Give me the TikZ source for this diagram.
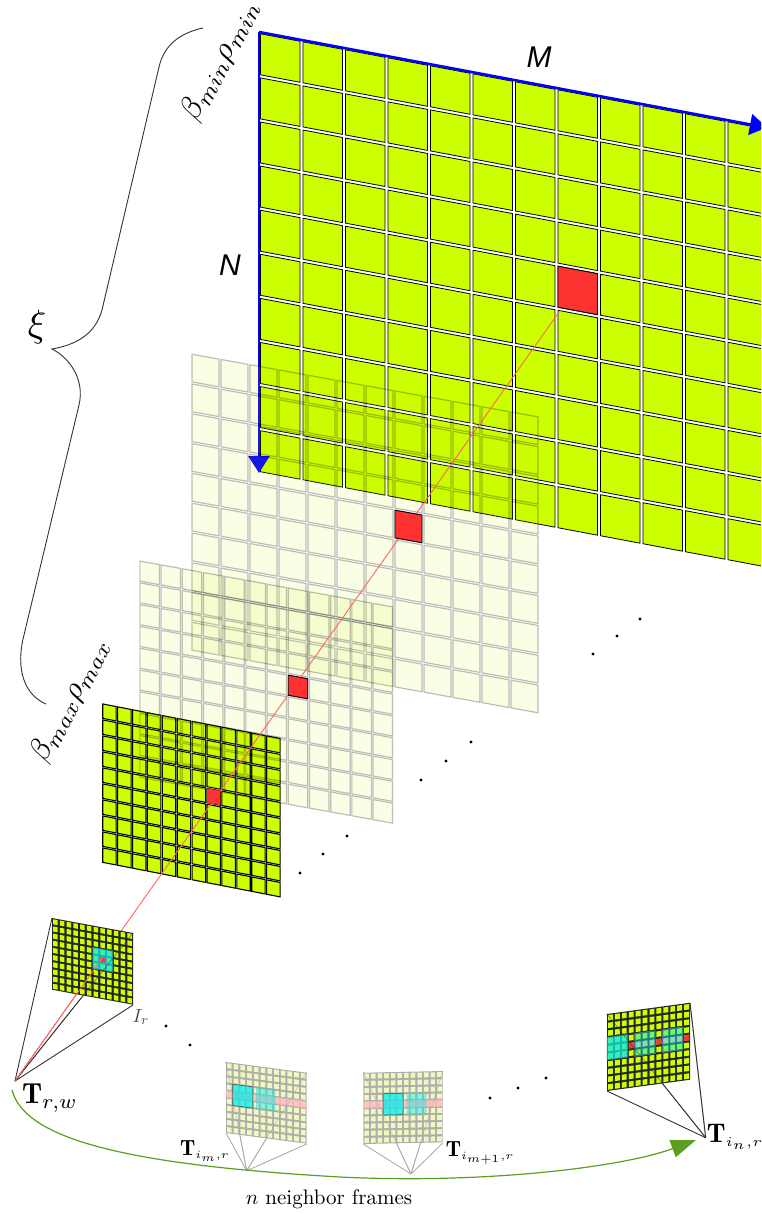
\documentclass[tikz,border=0pt]{standalone}
\usepackage{fontspec}
\setsansfont{Liberation Sans}
\usetikzlibrary{arrows.meta}
\definecolor{cellgreen}{RGB}{204,255,0}
\definecolor{palegreen}{RGB}{200,245,0}
\definecolor{cellred}{RGB}{255,50,50}
\definecolor{patchcyan}{RGB}{10,235,235}
\definecolor{bandpink}{RGB}{255,185,190}
\definecolor{arcgreen}{RGB}{90,160,30}
\definecolor{smallpale}{RGB}{240,248,190}
\newcommand{\gridcell}[3]{\path[#3] (#1+\gap,#2+\gap) -- (#1+1-\gap,#2+\gap) -- (#1+1-\gap,#2+1-\gap) -- (#1+\gap,#2+1-\gap) -- cycle;}
\newcommand{\gridpatch}[5]{\path[#5] (#1,#2) -- (#3,#2) -- (#3,#4) -- (#1,#4) -- cycle;}
\tikzset{
    bigcell/.style={fill=cellgreen, draw=black, line width=0.8pt},
    palecell/.style={fill=palegreen, fill opacity=0.1, draw=black, draw opacity=0.25, line width=1.2pt},
    densecell/.style={fill=cellgreen, draw=black, line width=1.1pt},
    redcell/.style={fill=cellred, draw=black, line width=0.9pt},
    inkbase/.style={fill=black!85},
    palebase/.style={fill=black!32},
    tinycell/.style={fill=cellgreen},
    tinypale/.style={fill=smallpale},
    cyanpatch/.style={fill=patchcyan, fill opacity=0.75, draw=black!70, line width=0.5pt},
    cyanfaint/.style={fill=patchcyan, fill opacity=0.45, draw=black!40, draw opacity=0.6, line width=0.4pt},
    pinkband/.style={fill=bandpink, fill opacity=0.8},
    axis/.style={blue, line width=2.6pt, -{Triangle[length=17pt,width=21pt]}},
    frustum/.style={black!80, line width=0.9pt},
    frustumpale/.style={black!35, line width=0.8pt},
    tinyred/.style={fill=cellred},
    dot/.style={black}
}
\begin{document}
\begin{tikzpicture}[x=1pt, y=-1pt]
    \useasboundingbox (0,0) rectangle (761,1214);
    \clip (0,0) rectangle (761,1214);

    % biggest plane
    \begin{scope}[shift={(259,32)}, x={(42.5pt,-8pt)}, y={(0pt,-44.1pt)}]
        \def\gap{0.035}
        \coordinate (mainTL) at (0,0);
        \coordinate (mainTR) at (11.95,0);
        \coordinate (mainBL) at (0,10);
        \foreach \i in {0,...,11} \foreach \j in {0,...,9} {\gridcell{\i}{\j}{bigcell}}
    \end{scope}
    \draw[axis] (mainTL) -- (mainTR);
    \draw[axis] (mainTL) -- (mainBL);

    % smallest plane of the pyramid
    \begin{scope}[shift={(102,703)}, x={(14.9pt,-2.9pt)}, y={(0pt,-16pt)}]
        \def\gap{0.05}
        \foreach \i in {0,...,11} \foreach \j in {0,...,9} {\gridcell{\i}{\j}{densecell}}
    \end{scope}

    % faded planes
    \begin{scope}[shift={(191,353)}, x={(29pt,-5.25pt)}, y={(0pt,-29.8pt)}]
        \def\gap{0.035}
        \foreach \i in {0,...,11} \foreach \j in {0,...,9} {\gridcell{\i}{\j}{palecell}}
    \end{scope}
    \begin{scope}[shift={(139,560)}, x={(21.2pt,-3.85pt)}, y={(0pt,-21.8pt)}]
        \def\gap{0.04}
        \foreach \i in {0,...,11} \foreach \j in {0,...,9} {\gridcell{\i}{\j}{palecell}}
    \end{scope}

    % line through the pyramid
    \coordinate (Trw) at (15,1081);
    \coordinate (redend) at (559,312);
    \draw[cellred!75!white, line width=0.9pt] (Trw) -- (redend);

    % red cells
    \begin{scope}[shift={(259,32)}, x={(42.5pt,-8pt)}, y={(0pt,-44.1pt)}]
        \def\gap{0.035}
        \gridcell{7}{4}{redcell}
    \end{scope}
    \begin{scope}[shift={(191,353)}, x={(29pt,-5.25pt)}, y={(0pt,-29.8pt)}]
        \def\gap{0.035}
        \gridcell{7}{4}{redcell}
    \end{scope}
    \begin{scope}[shift={(139,560)}, x={(21.2pt,-3.85pt)}, y={(0pt,-21.8pt)}]
        \def\gap{0.04}
        \gridcell{7}{4}{redcell}
    \end{scope}
    \begin{scope}[shift={(102,703)}, x={(14.9pt,-2.9pt)}, y={(0pt,-16pt)}]
        \def\gap{0.05}
        \gridcell{7}{4}{tinyred}
    \end{scope}

    % reference image
    \coordinate (IrTL) at (52,918);
    \coordinate (IrTR) at (133,933);
    \coordinate (IrBR) at (133,1005);
    \coordinate (Irred) at (103,957);
    \foreach \c in {IrTL,IrTR,IrBR} {\draw[frustum] (Trw) -- (\c);}
    \begin{scope}[shift={(52,918)}, x={(6.75pt,-1.25pt)}, y={(0pt,-7.17pt)}]
        \def\gap{0.15}
        \gridpatch{0}{0}{12}{10}{inkbase}
        \foreach \i in {0,...,11} \foreach \j in {0,...,9} {\gridcell{\i}{\j}{tinycell}}
        \gridpatch{6}{3}{9}{6}{cyanpatch}
        \gridcell{7}{4}{tinyred}
    \end{scope}
    \draw[frustum, opacity=0.45] (Trw) -- (IrTR);
    \draw[cellred!75!white, line width=0.9pt] (Trw) -- (Irred);

    % neighbor frame m
    \coordinate (TimA) at (246.7,1170.7);
    \coordinate (aTL) at (226,1062);
    \coordinate (aTR) at (306.7,1072.7);
    \coordinate (aBL) at (226,1133);
    \coordinate (aBR) at (306.7,1144);
    \foreach \c in {aTL,aTR,aBL,aBR} {\draw[frustumpale] (TimA) -- (\c);}
    \begin{scope}[shift={(226,1062)}, x={(6.72pt,-0.89pt)}, y={(0pt,-7.1pt)}]
        \def\gap{0.15}
        \gridpatch{0}{0}{12}{10}{palebase}
        \foreach \i in {0,...,11} \foreach \j in {0,...,9} {\gridcell{\i}{\j}{tinypale}}
        \gridpatch{0}{4}{12}{5}{pinkband}
        \gridpatch{1}{3}{4}{6}{cyanpatch}
        \gridpatch{4.5}{3}{7.3}{6}{cyanfaint}
    \end{scope}
    \foreach \c in {aTL,aTR} {\draw[frustumpale, opacity=0.5] (TimA) -- (\c);}

    % neighbor frame m+1
    \coordinate (TimB) at (411,1174);
    \coordinate (bTL) at (363.3,1072.7);
    \coordinate (bTR) at (442.7,1071);
    \coordinate (bBL) at (363.3,1144);
    \coordinate (bBR) at (442.7,1143);
    \foreach \c in {bTL,bTR,bBL,bBR} {\draw[frustumpale] (TimB) -- (\c);}
    \begin{scope}[shift={(363.3,1072.7)}, x={(6.62pt,0.14pt)}, y={(0pt,-7.13pt)}]
        \def\gap{0.15}
        \gridpatch{0}{0}{12}{10}{palebase}
        \foreach \i in {0,...,11} \foreach \j in {0,...,9} {\gridcell{\i}{\j}{tinypale}}
        \gridpatch{0}{4}{12}{5}{pinkband}
        \gridpatch{3}{3}{6}{6}{cyanpatch}
        \gridpatch{6.6}{3}{9.5}{6}{cyanfaint}
    \end{scope}
    \foreach \c in {bTL,bTR} {\draw[frustumpale, opacity=0.5] (TimB) -- (\c);}

    % last neighbor frame
    \coordinate (TinA) at (705.7,1137.7);
    \coordinate (cTL) at (607,1014);
    \coordinate (cTR) at (690,1003);
    \coordinate (cBL) at (607,1091);
    \foreach \c in {cTL,cTR,cBL} {\draw[frustum] (TinA) -- (\c);}
    \begin{scope}[shift={(607,1014)}, x={(6.92pt,0.94pt)}, y={(0pt,-7.7pt)}]
        \def\gap{0.15}
        \gridpatch{0}{0}{12}{10}{inkbase}
        \foreach \i in {0,...,11} \foreach \j in {0,...,9} {\gridcell{\i}{\j}{tinycell}}
        \foreach \i in {4,5,6,8,9,10} {\gridcell{\i}{4}{pinkband}}
        \gridpatch{0}{3}{3}{6}{cyanpatch}
        \gridpatch{4}{3}{7}{6}{cyanfaint}
        \gridpatch{8}{3}{11}{6}{cyanfaint}
        \foreach \i in {3,7,11} {\gridcell{\i}{4}{tinyred}}
    \end{scope}
    \foreach \c in {cTL,cTR} {\draw[frustum, opacity=0.45] (TinA) -- (\c);}

    % arc between the frames
    \coordinate (arcstart) at (12,1090);
    \coordinate (arcmid) at (340,1177);
    \coordinate (arcend) at (696,1140);
    \draw[arcgreen, line width=1.2pt, -{Triangle[length=25pt,width=18pt]}] (arcstart) .. controls (25,1140) and (130,1165) .. (arcmid) .. controls (480,1184) and (620,1168) .. (arcend);

    % curly brace
    \draw[black!80, line width=0.9pt] (203,28) .. controls (180,33) and (164,45) .. (159,67) -- (102,310) .. controls (95,335) and (75,345) .. (52,349) .. controls (70,358) and (85,380) .. (79,405) -- (24,635) .. controls (15,670) and (25,695) .. (46,704);

    % dots
    \foreach \x/\y in {640/619, 617/636, 593/654, 471/742, 446/761, 421/780, 347/836, 323/854, 300/873, 166/1026, 190/1045, 490/1098, 518/1088, 546/1078} {
        \fill[dot] (\x,\y) circle (1.7pt);
    }

    % labels
    \node[scale=3] (lblM) at (539,57) {\sffamily\itshape M};
    \node[scale=3] (lblN) at (230,265) {\sffamily\itshape N};
    \node[scale=3.2, rotate=62] (lblmin) at (220,60) {$\beta_{min}\rho_{min}$};
    \node[scale=3.1, rotate=62] (lblmax) at (70,700) {$\beta_{max}\rho_{max}$};
    \node[scale=3.8] (lblxi) at (37,327) {$\xi$};
    \node[scale=2.9] (lblTrw) at (50,1098) {$\mathbf{T}_{r,w}$};
    \node[scale=2.2] (lblTim) at (205,1151) {$\mathbf{T}_{\scriptscriptstyle i_m,r}$};
    \node[scale=2.2] (lblTimm) at (480,1153) {$\mathbf{T}_{\scriptscriptstyle i_{m+1},r}$};
    \node[scale=2.7] (lblTin) at (735,1137) {$\mathbf{T}_{\scriptscriptstyle i_n,r}$};
    \node[scale=1.9, text=black!70] (lblIr) at (141,1017) {$I_r$};
    \node[scale=2.1] (lblframes) at (329,1199) {$n$ neighbor frames};
\end{tikzpicture}
\end{document}
